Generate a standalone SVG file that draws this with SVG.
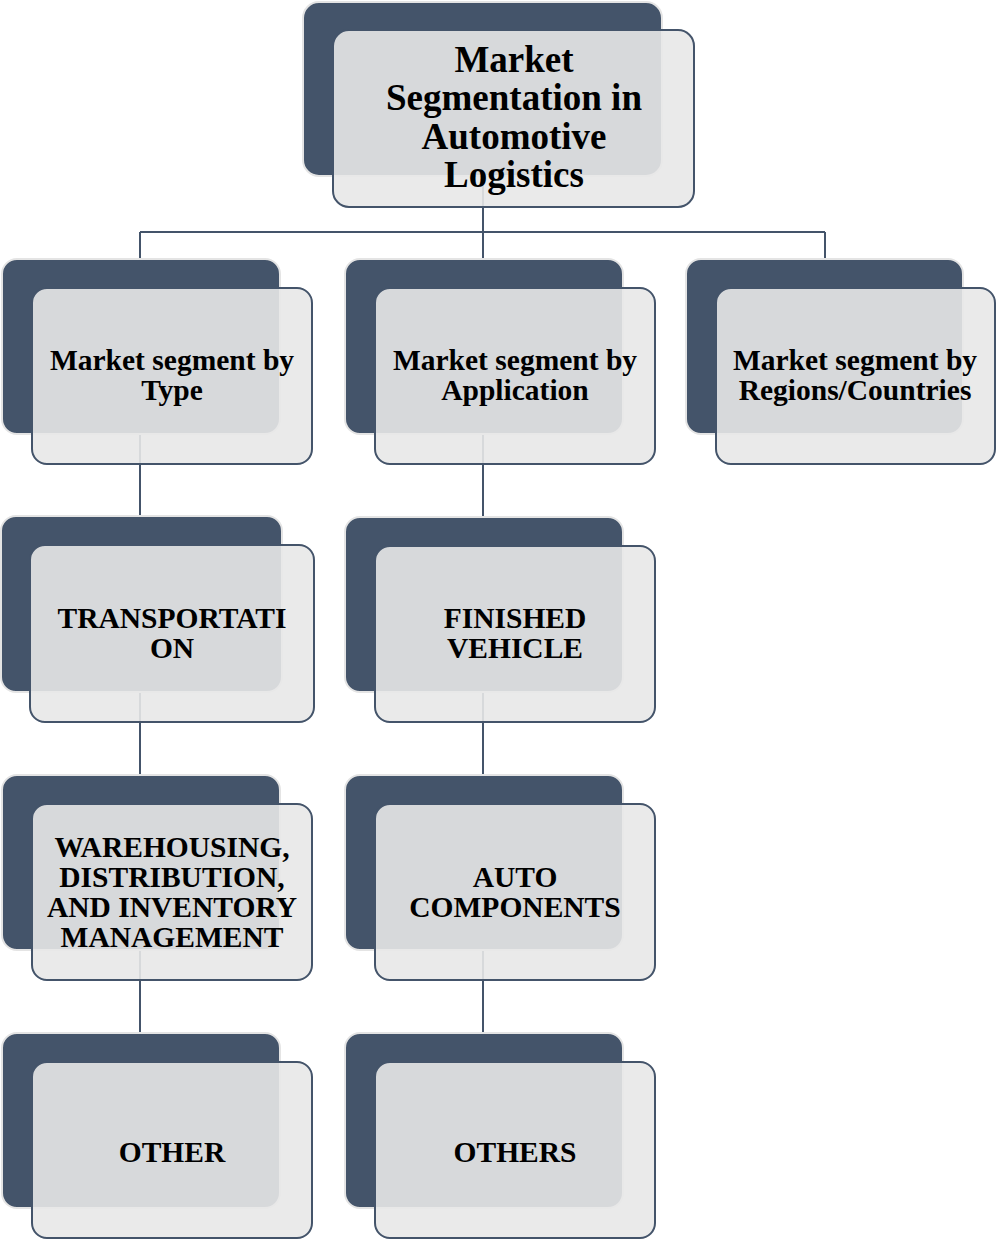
<svg xmlns="http://www.w3.org/2000/svg" width="996" height="1241" viewBox="0 0 996 1241">
<style>
.back{fill:#44546A;stroke:#e4e4e4;stroke-width:2}
.front{fill:#e8e8e8;fill-opacity:0.9;stroke:#44546A;stroke-width:2}
.c{stroke:#44546A;stroke-width:2;fill:none}
text{font-family:"Liberation Serif","Times New Roman",serif;font-weight:bold;fill:#000;text-anchor:middle}
.t{font-size:37px}
.n{font-size:29.5px}
</style>
<rect width="996" height="1241" fill="#fff"/>
<g id="connectors">
<path class="c" d="M483 180V259M140 232H825M140 232V259M825 232V259"/>
<path class="c" d="M140 434V517M140 692V775M140 950V1033"/>
<path class="c" d="M483 434V517M483 692V775M483 950V1033"/>
</g>
<g id="root">
<rect class="back" x="303" y="2" width="359" height="174" rx="16"/>
<rect class="front" x="333" y="30" width="361" height="177" rx="16"/>
<text class="t" x="514" y="72">Market</text>
<text class="t" x="514" y="110">Segmentation in</text>
<text class="t" x="514" y="149">Automotive</text>
<text class="t" x="514" y="187">Logistics</text>
</g>
<g id="type">
<rect class="back" x="2" y="259" width="278" height="175" rx="15"/>
<rect class="front" x="32" y="288" width="280" height="176" rx="15"/>
<text class="n" x="172" y="370">Market segment by</text>
<text class="n" x="172" y="400">Type</text>
</g>
<g id="application">
<rect class="back" x="345" y="259" width="278" height="175" rx="15"/>
<rect class="front" x="375" y="288" width="280" height="176" rx="15"/>
<text class="n" x="515" y="370">Market segment by</text>
<text class="n" x="515" y="400">Application</text>
</g>
<g id="regions">
<rect class="back" x="686" y="259" width="277" height="175" rx="15"/>
<rect class="front" x="716" y="288" width="279" height="176" rx="15"/>
<text class="n" x="855" y="370">Market segment by</text>
<text class="n" x="855" y="400">Regions/Countries</text>
</g>
<g id="transportation">
<rect class="back" x="1" y="516" width="281" height="176" rx="15"/>
<rect class="front" x="30" y="545" width="284" height="177" rx="15"/>
<text class="n" x="172" y="628">TRANSPORTATI</text>
<text class="n" x="172" y="658">ON</text>
</g>
<g id="finished-vehicle">
<rect class="back" x="345" y="517" width="278" height="175" rx="15"/>
<rect class="front" x="375" y="546" width="280" height="176" rx="15"/>
<text class="n" x="515" y="628">FINISHED</text>
<text class="n" x="515" y="658">VEHICLE</text>
</g>
<g id="warehousing">
<rect class="back" x="2" y="775" width="278" height="175" rx="15"/>
<rect class="front" x="32" y="804" width="280" height="176" rx="15"/>
<text class="n" x="172" y="857">WAREHOUSING,</text>
<text class="n" x="172" y="887">DISTRIBUTION,</text>
<text class="n" x="172" y="917">AND INVENTORY</text>
<text class="n" x="172" y="947">MANAGEMENT</text>
</g>
<g id="auto-components">
<rect class="back" x="345" y="775" width="278" height="175" rx="15"/>
<rect class="front" x="375" y="804" width="280" height="176" rx="15"/>
<text class="n" x="515" y="887">AUTO</text>
<text class="n" x="515" y="917">COMPONENTS</text>
</g>
<g id="other">
<rect class="back" x="2" y="1033" width="278" height="175" rx="15"/>
<rect class="front" x="32" y="1062" width="280" height="176" rx="15"/>
<text class="n" x="172" y="1162">OTHER</text>
</g>
<g id="others">
<rect class="back" x="345" y="1033" width="278" height="175" rx="15"/>
<rect class="front" x="375" y="1062" width="280" height="176" rx="15"/>
<text class="n" x="515" y="1162">OTHERS</text>
</g>
</svg>
